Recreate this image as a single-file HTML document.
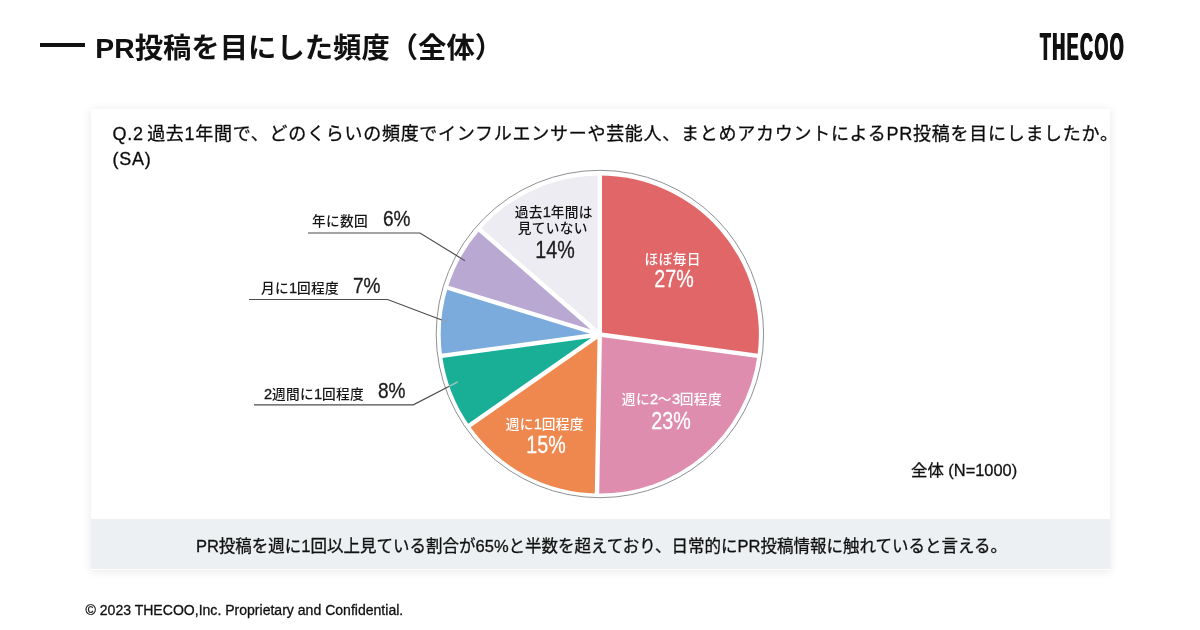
<!DOCTYPE html>
<html lang="ja"><head><meta charset="utf-8"><title>PR投稿を目にした頻度（全体）</title>
<style>
html,body{margin:0;padding:0;}
body{width:1200px;height:630px;background:#fff;position:relative;overflow:hidden;font-family:"Liberation Sans","Noto Sans CJK JP",sans-serif;color:#111;}
.abs{position:absolute;white-space:nowrap;line-height:1;}
.q,.note,.n,.foot{-webkit-text-stroke:0.3px #111;}
.dash{position:absolute;left:40px;top:43px;width:45px;height:4px;background:#111;}
.title{left:95.3px;top:34px;font-size:28.35px;font-weight:700;}
.logo{left:1040px;top:28px;font-size:38.2px;font-weight:700;transform-origin:0 0;transform:scaleX(0.462);letter-spacing:3.5px;text-shadow:1.2px 0 0 #111,-1.2px 0 0 #111;}
.card{position:absolute;left:90.5px;top:109px;width:1019px;height:460.5px;background:#fff;box-shadow:0 1px 9px rgba(0,0,0,0.10);}
.band{position:absolute;left:90.5px;top:518.6px;width:1019px;height:50.9px;background:#edf0f2;}
.q{left:112.5px;top:122.3px;font-size:18px;line-height:24.5px;letter-spacing:0.73px;word-spacing:-2.3px;color:#0a0a0a;}
.note{left:1.5px;width:1200px;text-align:center;top:538px;font-size:16.5px;}
.n{left:911px;top:462px;font-size:16.4px;}
.foot{left:85.5px;top:602.5px;font-size:14.05px;}
.pie{position:absolute;left:0;top:0;}
.lab{font-family:"Liberation Sans","Noto Sans CJK JP",sans-serif;font-size:13.7px;font-weight:500;color:#151515;letter-spacing:0.35px;}
.lab b{font-weight:400;font-size:14.6px;letter-spacing:-0.2px;line-height:0;-webkit-text-stroke:0.3px currentColor;}
.pct{font-family:"Liberation Sans",sans-serif;font-size:24px;color:#1c1c1c;-webkit-text-stroke:0.3px currentColor;transform:scaleX(0.82);transform-origin:0 0;}
.pct.c{transform:translateX(-50%) scaleX(0.82);transform-origin:50% 0;}
.pct.s{font-size:21.7px;transform:scaleX(0.88);}
.c{text-align:center;transform:translateX(-50%);}
.w{color:#fff;}
</style></head><body>
<div class="dash"></div>
<div class="abs title">PR投稿を目にした頻度（全体）</div>
<div class="abs logo">THECOO</div>
<div class="card"></div>
<div class="band"></div>
<div class="abs q" >Q.2 過去1年間で、どのくらいの頻度でインフルエンサーや芸能人、まとめアカウントによるPR投稿を目にしましたか。<br>(SA)</div>
<svg class="pie" width="1200" height="630" viewBox="0 0 1200 630">
<circle cx="599.9" cy="334.0" r="163.7" fill="#fff" stroke="#8e9194" stroke-width="1"/>
<path d="M599.8 334.5 L599.80 175.40 A159.1 159.1 0 0 1 757.47 355.82 Z" fill="#e16667"/>
<path d="M599.8 334.5 L757.47 355.82 A159.1 159.1 0 0 1 597.02 493.58 Z" fill="#de8daf"/>
<path d="M599.8 334.5 L597.02 493.58 A159.1 159.1 0 0 1 469.31 425.53 Z" fill="#ee884f"/>
<path d="M599.8 334.5 L469.31 425.53 A159.1 159.1 0 0 1 442.13 355.82 Z" fill="#19ae96"/>
<path d="M599.8 334.5 L442.13 355.82 A159.1 159.1 0 0 1 447.73 287.72 Z" fill="#7aabdc"/>
<path d="M599.8 334.5 L447.73 287.72 A159.1 159.1 0 0 1 479.91 229.91 Z" fill="#b9a8d2"/>
<path d="M599.8 334.5 L479.91 229.91 A159.1 159.1 0 0 1 599.80 175.40 Z" fill="#ececf2"/>
<g stroke="#fff" stroke-width="4.4" stroke-linecap="butt">
<line x1="599.8" y1="334.5" x2="599.80" y2="172.90"/>
<line x1="599.8" y1="334.5" x2="759.94" y2="356.15"/>
<line x1="599.8" y1="334.5" x2="596.98" y2="496.08"/>
<line x1="599.8" y1="334.5" x2="467.26" y2="426.96"/>
<line x1="599.8" y1="334.5" x2="439.66" y2="356.15"/>
<line x1="599.8" y1="334.5" x2="445.34" y2="286.98"/>
<line x1="599.8" y1="334.5" x2="478.02" y2="228.27"/>
</g>
<polyline points="308,233 420,233 465,260.7" fill="none" stroke="#4d4d4d" stroke-width="1.2"/><line x1="460.39" y1="257.86" x2="465" y2="260.7" stroke="rgba(185,168,210,0.15)" stroke-width="1.6"/>
<polyline points="249,299.5 387.6,299.5 447,322" fill="none" stroke="#4d4d4d" stroke-width="1.2"/><line x1="441.39" y1="319.87" x2="447" y2="322" stroke="#8fa9c6" stroke-width="1.6"/>
<polyline points="254,404.8 413.3,404.8 458,381.7" fill="none" stroke="#4d4d4d" stroke-width="1.2"/><line x1="449.33" y1="386.18" x2="458" y2="381.7" stroke="#8acbbd" stroke-width="1.6"/>
</svg>
<div class="abs lab" style="left:312px;top:215px">年に数回</div><div class="abs pct s" style="left:383px;top:208px">6%</div>
<div class="abs lab" style="left:261px;top:282px">月に<b>1</b>回程度</div><div class="abs pct s" style="left:352.5px;top:275px">7%</div>
<div class="abs lab" style="left:264px;top:388px"><b>2</b>週間に<b>1</b>回程度</div><div class="abs pct s" style="left:378px;top:380px">8%</div>
<div class="abs lab c" style="left:553.7px;top:206px">過去<b>1</b>年間は</div>
<div class="abs lab c" style="left:552.8px;top:222px">見ていない</div>
<div class="abs pct c" style="left:554.8px;top:238px">14%</div>
<div class="abs lab c w" style="left:672.7px;top:252.6px">ほぼ毎日</div>
<div class="abs pct c w" style="left:673.7px;top:267px">27%</div>
<div class="abs lab c w" style="left:671.9px;top:392.6px">週に<b>2</b>〜<b>3</b>回程度</div>
<div class="abs pct c w" style="left:671.3px;top:409px">23%</div>
<div class="abs lab c w" style="left:544.7px;top:418px">週に<b>1</b>回程度</div>
<div class="abs pct c w" style="left:545.7px;top:433px">15%</div>
<div class="abs n">全体 (N=1000)</div>
<div class="abs note">PR投稿を週に1回以上見ている割合が65%と半数を超えており、日常的にPR投稿情報に触れていると言える。</div>
<div class="abs foot">© 2023 THECOO,Inc. Proprietary and Confidential.</div>
</body></html>
